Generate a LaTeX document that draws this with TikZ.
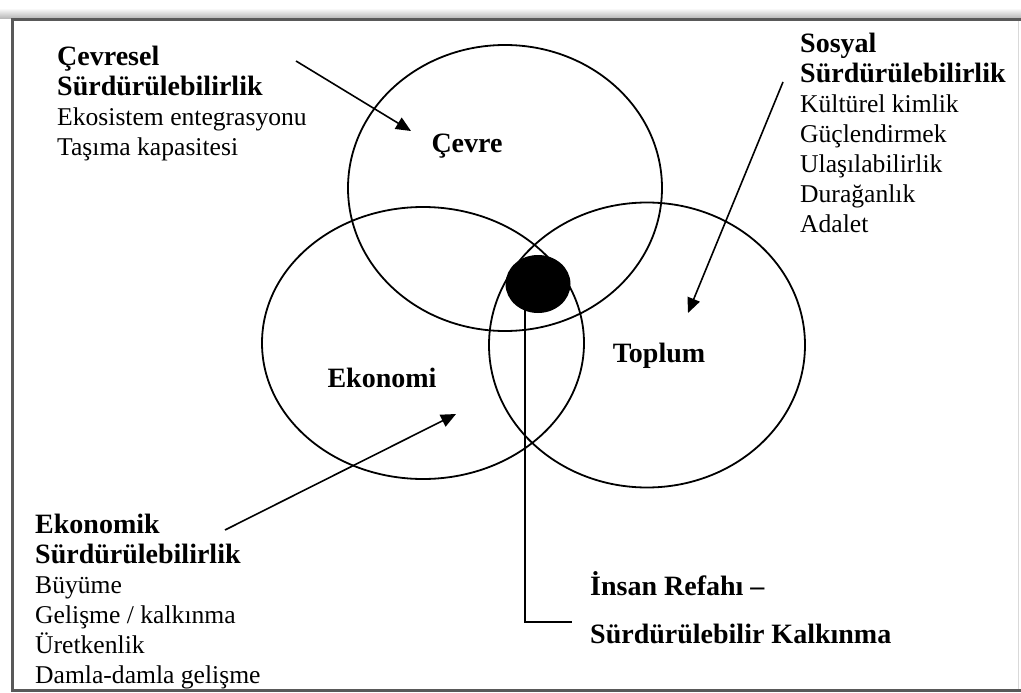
\documentclass[tikz,border=0pt]{standalone}
\usepackage{fontspec}
\setmainfont{Liberation Serif}
\usetikzlibrary{arrows.meta,shapes.geometric}
\newcommand{\hd}[1]{{\fontsize{28}{30}\selectfont\bfseries #1}}
\begin{document}
\begin{tikzpicture}[x=1pt,y=-1pt,
  ring/.style={draw=black, line width=1.8pt, ellipse, inner sep=0pt},
  head/.style={font=\fontsize{28}{30}\selectfont\bfseries, inner sep=0pt},
  block/.style={anchor=north west, align=left, inner sep=0pt, font=\fontsize{25.6}{30}\selectfont},
  ptr/.style={line width=1.6pt, -{Triangle[length=15pt,width=13pt]}},
  wire/.style={line width=1.6pt},
]
\useasboundingbox (0,0) rectangle (1021,693);
\fill[white] (0,0) rectangle (1021,693);

% page frame with a soft shadow along its top
\shade[top color=white, bottom color=black!30] (0,8) rectangle (1021,19);
\draw[line width=3pt, draw=black!65] (1021,20) -- (12,20) -- (12,690) -- (1021,690);
\draw[line width=1pt, draw=black!15] (1018,21) -- (1018,689);

% the three overlapping fields
\node[ring, minimum width=314pt, minimum height=286pt] (cevre) at (505,188) {};
\node[ring, minimum width=322pt, minimum height=272pt] (ekonomi) at (423,343) {};
\node[ring, minimum width=316pt, minimum height=285pt] (toplum) at (647,345) {};

% common core
\node[ellipse, fill=black, inner sep=0pt, minimum width=65pt, minimum height=58pt] (core) at (538,284) {};

% field labels
\node[head, anchor=base] (lcevre) at (467,152) {Çevre};
\node[head, anchor=base] (lekonomi) at (382,387) {Ekonomi};
\node[head, anchor=base] (ltoplum) at (659,362) {Toplum};

% text blocks
\node[block] (tcevre) at (57,46) {\hd{Çevresel}\\ \hd{Sürdürülebilirlik}\\ Ekosistem entegrasyonu\\ Taşıma kapasitesi};
\node[block] (tsosyal) at (800,33) {\hd{Sosyal}\\ \hd{Sürdürülebilirlik}\\ Kültürel kimlik\\ Güçlendirmek\\ Ulaşılabilirlik\\ Durağanlık\\ Adalet};
\node[block] (tekonomi) at (35,514) {\hd{Ekonomik}\\ \hd{Sürdürülebilirlik}\\ Büyüme\\ Gelişme / kalkınma\\ Üretkenlik\\ Damla-damla gelişme};
\node[block] (trefah) at (590,571) {\hd{İnsan Refahı –}\\[18pt] \hd{Sürdürülebilir Kalkınma}};

% pointers
\coordinate (cFrom) at (296,61);
\coordinate (cTo) at (411,131);
\coordinate (sFrom) at (783,82);
\coordinate (sTo) at (688,313);
\coordinate (eFrom) at (225,530);
\coordinate (eTo) at (456,414);
\draw[ptr] (cFrom) -- (cTo);
\draw[ptr] (sFrom) -- (sTo);
\draw[ptr] (eFrom) -- (eTo);

% line from the core to its caption
\coordinate (wTop) at (525,300);
\coordinate (wEnd) at (572,622);
\draw[wire] (wTop) |- (wEnd);
\end{tikzpicture}
\end{document}
